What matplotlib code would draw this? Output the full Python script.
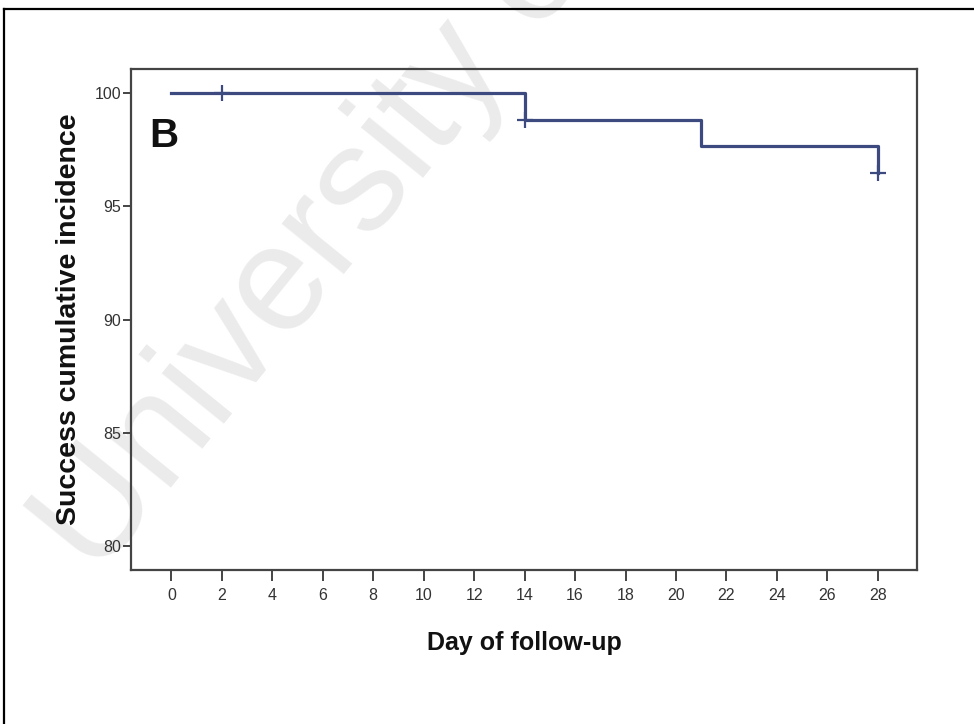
import matplotlib.pyplot as plt
from matplotlib.lines import Line2D

# Kaplan-Meier style step data
days = [0, 14, 21, 28]
success = [100.0, 98.82, 97.65, 96.47]
censor_days = [2, 14, 28]
censor_success = [100.0, 98.82, 96.47]

x_ticks = list(range(0, 30, 2))
y_ticks = [80, 85, 90, 95, 100]

narrow = ["Liberation Sans Narrow", "Liberation Sans", "DejaVu Sans"]
sans = ["Liberation Sans", "DejaVu Sans"]

fig = plt.figure(figsize=(9.74, 7.24), dpi=100)

# watermark behind everything
fig.text(0.10, 0.20, "University of Malaya", rotation=51, fontsize=108,
         color="#ebebeb", family=sans, ha="left", va="baseline",
         rotation_mode="anchor", zorder=-10)

# partial frame (top and left edges only)
fig.add_artist(Line2D([4 / 974, 4 / 974], [0, 1 - 9 / 724], color="black",
                      lw=1.6, transform=fig.transFigure))
fig.add_artist(Line2D([4 / 974, 1], [1 - 9 / 724, 1 - 9 / 724], color="black",
                      lw=1.6, transform=fig.transFigure))

ax = fig.add_axes([131 / 974, 1 - 570 / 724, 786 / 974, 501 / 724])
ax.patch.set_alpha(0)

line_color = "#3d4a80"
ax.plot(days, success, drawstyle="steps-post", color=line_color, lw=2.3)
ax.plot(censor_days, censor_success, ls="none", marker="+", ms=11, mew=1.6,
        color=line_color)

ax.set_xlim(-1.6, 29.55)
ax.set_ylim(78.94, 101.06)
ax.set_xticks(x_ticks)
ax.set_yticks(y_ticks)

for side in ["top", "right", "bottom", "left"]:
    ax.spines[side].set_color("#444444")
    ax.spines[side].set_linewidth(1.6)

ax.tick_params(axis="y", length=6, width=1.4, pad=1, color="#444444",
               labelsize=11.5, labelcolor="#333333")
ax.tick_params(axis="x", length=8, width=1.4, pad=5, color="#444444",
               labelsize=11.5, labelcolor="#333333")
for lab in ax.get_xticklabels() + ax.get_yticklabels():
    lab.set_family(narrow)

ax.set_xlabel("Day of follow-up", fontsize=18, fontweight="bold",
              family=narrow, labelpad=20, color="#111111")
ax.set_ylabel("Success cumulative incidence", fontsize=20.5, fontweight="bold",
              family=sans, labelpad=9, color="#111111")

ax.text(0.023, 0.905, "B", transform=ax.transAxes, fontsize=29,
        fontweight="bold", family=sans, ha="left", va="top", color="#111111")

fig.savefig("out.png", dpi=100)
